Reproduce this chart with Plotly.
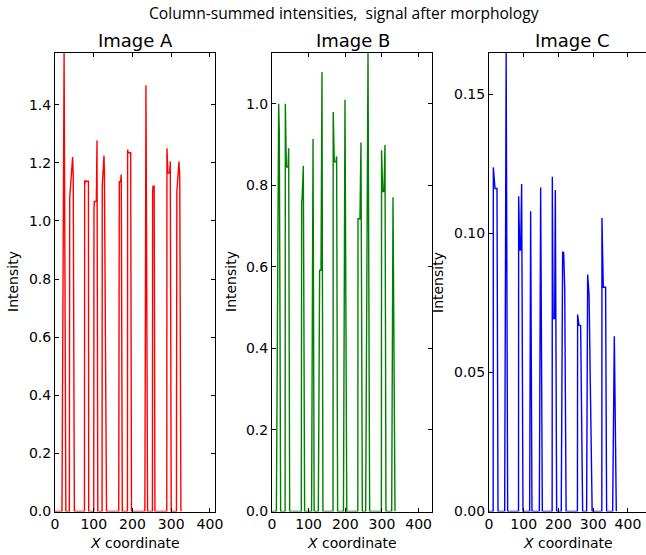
import plotly.graph_objects as go

# ---------------- data ----------------
a_x = [0, 18, 23.5, 28, 37, 38, 45.5, 47, 50, 76, 76.6, 78, 79, 86.3, 87,
       100, 100.6, 101.5, 106.7, 108.4, 110.5, 121.5, 122, 126.4, 127.5, 133,
       164.5, 165, 166, 169.4, 171, 173.7, 187, 187.5, 189, 195.3, 197.5,
       232, 234.8, 239, 251.5, 252, 253, 256, 258,
       288.5, 289, 291.6, 296, 297.6, 300, 313.5, 314.5, 320, 322, 325]
a_y = [0, 0, 1.58, 0, 0, 1.08, 1.22, 1.16, 0, 0, 1.14, 1.13, 1.137, 1.137, 0,
       0, 1.04, 1.067, 1.067, 1.277, 0, 0, 1.12, 1.225, 1.17, 0,
       0, 1.13, 1.135, 1.135, 1.16, 0, 0, 1.246, 1.235, 1.235, 0,
       0, 1.467, 0, 0, 1.10, 1.12, 1.12, 0,
       0, 1.25, 1.165, 1.165, 1.205, 0, 0, 1.10, 1.205, 1.15, 0]

b_x = [0, 12, 18.2, 20, 23.6, 35.8, 36.4, 39.1, 43.7, 45.5, 48.2,
       80, 81, 82, 85.5, 89, 108, 112, 115,
       126.4, 130, 133.7, 136.4, 139, 166.5, 167, 170, 174.6, 176.4, 179,
       195, 199.2, 204, 234.2, 234.7, 240, 242.8, 246.5,
       255.6, 260, 262, 266.4, 298.5, 299, 302, 305.6, 308.3, 311,
       326.6, 330.2, 335.6]
b_y = [0, 0, 1.0, 0.93, 0, 0, 1.0, 0.845, 0.845, 0.891, 0,
       0, 0.761, 0.765, 0.848, 0, 0, 0.914, 0,
       0, 0.592, 0.592, 1.078, 0, 0, 0.98, 0.858, 0.858, 0.871, 0,
       0, 1.01, 0, 0, 0.718, 0.718, 0.905, 0,
       0, 1.04, 1.126, 0, 0, 0.886, 0.785, 0.785, 0.899, 0,
       0, 0.771, 0]

c_x = [0, 12, 12.5, 17.3, 23, 25.9, 45.1, 49.4, 53.7,
       85, 85.4, 88.3, 91.1, 94, 97.8, 117, 119.9, 123.7,
       144.9, 148.7, 153.5, 181.8, 182.3, 184.5, 189, 191, 194.8,
       208, 212, 215, 218, 222, 254.6, 255.1, 259, 263.8, 269.6,
       281, 284, 288, 297, 324.8, 325.2, 329, 335.7, 338.6,
       356, 360.8, 366.5]
c_y = [0, 0, 0.1237, 0.1161, 0.1161, 0, 0, 0.165, 0,
       0, 0.1133, 0.094, 0.094, 0.1177, 0, 0, 0.1079, 0,
       0, 0.1165, 0, 0, 0.1203, 0.0694, 0.0694, 0.1156, 0,
       0, 0.0934, 0.093, 0.08, 0, 0, 0.0708, 0.0669, 0.0669, 0,
       0, 0.0852, 0.078, 0, 0, 0.1055, 0.0806, 0.0806, 0,
       0, 0.063, 0]

panel_titles = ["Image A", "Image B", "Image C"]
main_title = "Column-summed intensities,  signal after morphology"
x_ticks = [0, 100, 200, 300, 400]
a_yticks = [0.0, 0.2, 0.4, 0.6, 0.8, 1.0, 1.2, 1.4]
b_yticks = [0.0, 0.2, 0.4, 0.6, 0.8, 1.0]
c_yticks = [0.00, 0.05, 0.10, 0.15]

# ---------------- layout geometry ----------------
W, H = 646, 555
FONT = "DejaVu Sans"

def fx(p):
    return p / W

def fy(p):
    return 1 - p / H

y_dom = [fy(511.5), fy(52.5)]
x_doms = [[fx(55), fx(215)], [fx(272), fx(432)], [fx(489), 1.0]]
x_ranges = [[0, 413], [0, 436.6], [0, 452]]
y_ranges = [[0, 1.58], [0, 1.126], [0, 0.165]]
y_ticks_all = [a_yticks, b_yticks, c_yticks]
y_fmt = [".1f", ".1f", ".2f"]
colors = ["#ff0000", "#008000", "#0000ff"]
series = [(a_x, a_y), (b_x, b_y), (c_x, c_y)]

fig = go.Figure()
for i, ((xs, ys), col) in enumerate(zip(series, colors)):
    sfx = "" if i == 0 else str(i + 1)
    fig.add_trace(go.Scatter(x=xs, y=ys, mode="lines",
                             line=dict(color=col, width=1.4),
                             xaxis="x" + sfx, yaxis="y" + sfx,
                             showlegend=False, hoverinfo="skip"))

common = dict(showline=True, linecolor="black", linewidth=1, ticks="inside",
              ticklen=4, tickcolor="black", showgrid=False, zeroline=False,
              automargin=False,
              tickfont=dict(family=FONT, size=14, color="black"))

layout = dict(width=W, height=H, margin=dict(l=0, r=0, t=0, b=0, pad=0),
              paper_bgcolor="white", plot_bgcolor="white", showlegend=False)
for i in range(3):
    sfx = "" if i == 0 else str(i + 1)
    layout["xaxis" + sfx] = dict(common, domain=x_doms[i], range=x_ranges[i],
                                 anchor="y" + sfx, tickvals=x_ticks,
                                 mirror="ticks")
    layout["yaxis" + sfx] = dict(common, domain=y_dom, range=y_ranges[i],
                                 anchor="x" + sfx, tickvals=y_ticks_all[i],
                                 tickformat=y_fmt[i],
                                 mirror=("ticks" if i < 2 else False))
fig.update_layout(**layout)

ann = []
ann.append(dict(text=main_title, x=fx(344), y=fy(13), xref="paper", yref="paper",
                showarrow=False, font=dict(family="Open Sans", size=15.6, color="black"),
                xanchor="center", yanchor="middle"))
title_cx = [135, 353, 572]
ylab_cx = [13, 231, 438]
xlab_cx = [135, 352, 568]
for i in range(3):
    ann.append(dict(text=panel_titles[i], x=fx(title_cx[i]), y=fy(40),
                    xref="paper", yref="paper", showarrow=False,
                    font=dict(family=FONT, size=18, color="black"),
                    xanchor="center", yanchor="middle"))
    ann.append(dict(text="Intensity", x=fx(ylab_cx[i]), y=fy(282),
                    xref="paper", yref="paper", showarrow=False, textangle=-90,
                    font=dict(family=FONT, size=14, color="black"),
                    xanchor="center", yanchor="middle"))
    ann.append(dict(text="<i>X</i> coordinate", x=fx(xlab_cx[i]), y=fy(543),
                    xref="paper", yref="paper", showarrow=False,
                    font=dict(family=FONT, size=14, color="black"),
                    xanchor="center", yanchor="middle"))
fig.update_layout(annotations=ann)

fig.write_html("out.html",
               config={"displayModeBar": False},
               post_script="document.body.style.margin='0';"
                           "document.body.style.padding='0';")
